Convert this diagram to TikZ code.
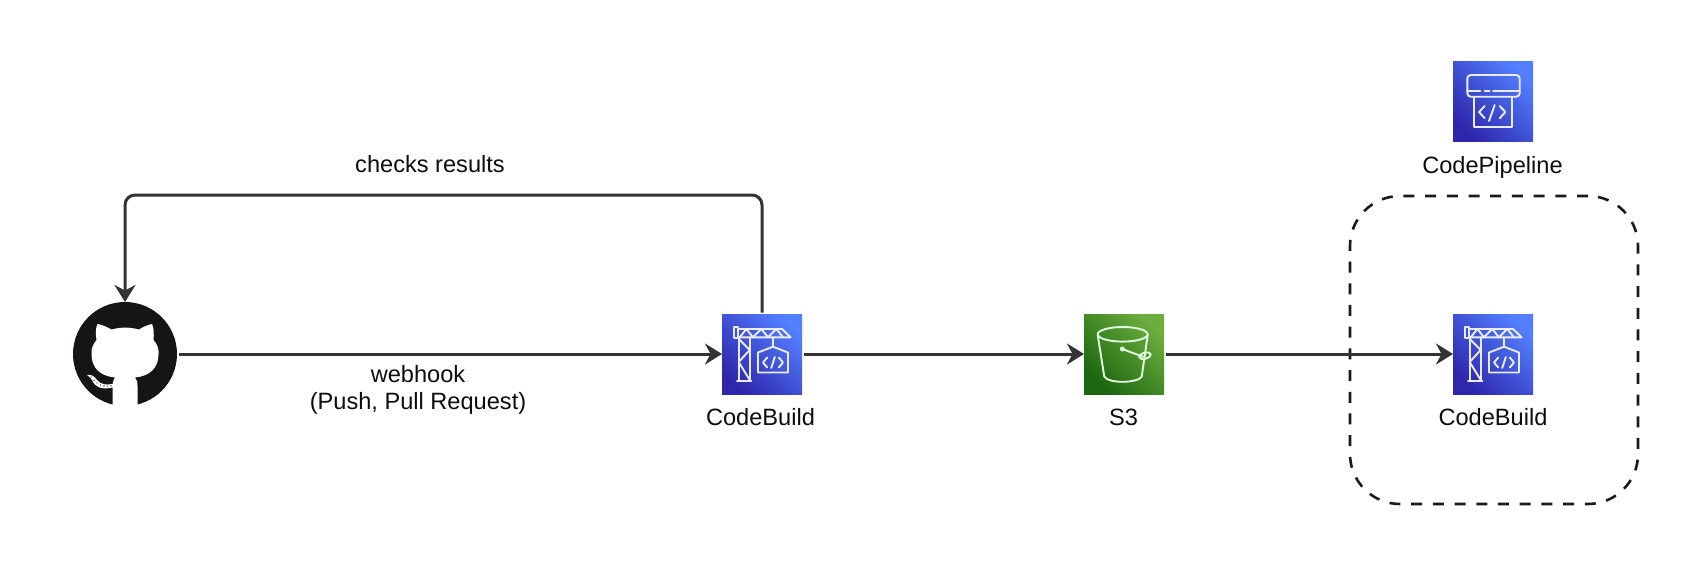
\documentclass[tikz,border=0pt]{standalone}
\usepackage{fontspec}
\setmainfont{Liberation Sans}
\usetikzlibrary{arrows.meta}
\definecolor{linecol}{HTML}{333333}
\definecolor{dashcol}{HTML}{1A1A1A}
\definecolor{bluedark}{HTML}{2E27AD}
\definecolor{bluelight}{HTML}{527FFF}
\definecolor{greendark}{HTML}{1B660F}
\definecolor{greenlight}{HTML}{6CAE3E}
\definecolor{ghblack}{HTML}{161514}
\tikzset{
  x=1pt,y=-1pt,
  lbl/.style={font=\fontsize{23.6}{26.6}\selectfont,text=black!95,inner sep=0pt,align=center},
  baselbl/.style={lbl,anchor=base},
  bluebox/.style={minimum size=80pt,inner sep=0pt,outer sep=0pt,bottom color=bluedark,top color=bluelight,middle color=bluedark!50!bluelight,shading angle=-45},
  greenbox/.style={minimum size=80pt,inner sep=0pt,outer sep=0pt,bottom color=greendark,top color=greenlight,middle color=greendark!50!greenlight,shading angle=-45},
  conn/.style={draw=linecol,line width=3pt,-{Stealth[length=17pt,width=21pt,inset=5.5pt]}},
  glyph/.style={draw=white!92!blue,line width=1.9pt,line join=round,line cap=round},
  crane/.pic={
    \begin{scope}[glyph]
      % jib
      \draw (16,23.3) -- (68.7,23.3) -- (60,15) -- (16,15);
      \draw (12,12.7) rectangle (16,24.3);
      \draw (17.7,23.3) -- (24.3,15) -- (31,23.3) -- (39.3,15) -- (46,23.3) -- (54.3,15) -- (61,23.3);
      % mast
      \draw (16.7,23.3) -- (16.7,67) (27.7,23.3) -- (27.7,67);
      \draw (15,67) -- (29.5,67);
      \draw (16.7,25) -- (27.7,36) -- (16.7,48) -- (27.7,66);
      % hoist and box
      \draw (51,23.3) -- (51,32.7);
      \draw (36,38.5) -- (51,32.7) -- (66,38.5) -- (66,58.5) -- (36,58.5) -- cycle;
      % code
      \draw (45.2,43.5) -- (41,48.5) -- (45.2,53.5);
      \draw (52.8,43) -- (49.2,54);
      \draw (56.8,43.5) -- (61,48.5) -- (56.8,53.5);
    \end{scope}
  },
  pipeline/.pic={
    \begin{scope}[glyph]
      \draw[rounded corners=3.5pt] (14.3,35.7) rectangle (66.7,14);
      \draw (14.3,29.7) -- (27.3,29.7) (31.7,29.7) -- (36.7,29.7) (40,29.7) -- (66.7,29.7);
      \draw (21,35.7) -- (21,66.3) -- (59.3,66.3) -- (59.3,35.7);
      \draw (31.7,45) -- (26,51) -- (31.7,57.3);
      \draw (41.7,44) -- (36,60);
      \draw (46.7,45) -- (52.3,51) -- (46.7,57.3);
    \end{scope}
  },
  bucket/.pic={
    \begin{scope}[glyph,draw=white!88!green]
      \draw (38.7,20.3) ellipse [x radius=25,y radius=7.3];
      \draw (13.7,21) -- (20.3,62.7) .. controls (24,69.5) and (53,69.5) .. (57.7,62.7) -- (63.7,21);
      \draw (38.3,35) circle [radius=1.8];
      \draw (40,35.7) -- (59,42.7);
      \draw[rotate around={15:(61,41.7)}] (61,41.7) ellipse [x radius=6,y radius=3];
    \end{scope}
  },
  octocat/.pic={
    % coordinates are relative to the logo centre, in reference pixels
    \fill[white] (-27.5,-30) .. controls (-22,-29) and (-18,-27) .. (-13.5,-24.5)
      .. controls (-5,-27) and (5,-27) .. (14,-24.5)
      .. controls (18,-27) and (22,-29) .. (27,-30)
      .. controls (29,-26) and (29,-20) .. (28.5,-14)
      .. controls (33,-9) and (34,-4) .. (33.5,0)
      .. controls (33.5,14) and (25,22) .. (10,23.5)
      .. controls (12,26) and (12.5,28) .. (12.5,32)
      -- (12.5,50) -- (12.5,54) -- (-12.5,54) -- (-12.5,50)
      -- (-12.5,33.5)
      .. controls (-24,36) and (-30,33) .. (-33,26)
      .. controls (-35,23) and (-37,22) .. (-38,21)
      .. controls (-34,20) and (-31,22) .. (-28,26)
      .. controls (-24,31) and (-18,31) .. (-12.5,30)
      .. controls (-12,27) and (-11,25) .. (-10,23.5)
      .. controls (-25,22) and (-33.5,14) .. (-33.5,0)
      .. controls (-34,-5) and (-32,-10) .. (-28.5,-14)
      .. controls (-29.5,-20) and (-29.5,-26) .. (-27.5,-30) -- cycle;
    \fill[ghblack] (-34,23) circle [radius=.7] (-31,26.5) circle [radius=.7] (-28,29) circle [radius=.7]
      (-24.5,31) circle [radius=.7] (-21,31.8) circle [radius=.7] (-17.5,32) circle [radius=.7] (-14,31.8) circle [radius=.7];
  }
}
\begin{document}
\begin{tikzpicture}
\useasboundingbox (0,0) rectangle (1703,587);

% frame round the second build
\node[draw=dashcol,line width=2.6pt,dash pattern=on 11pt off 10.7pt,rounded corners=50pt,
      minimum width=288pt,minimum height=308pt,inner sep=0pt] (frame) at (1494,350) {};

% icons
\node[circle,fill=ghblack,minimum size=104pt,inner sep=0pt,outer sep=0pt] (gh) at (125,354) {};
\pic at (gh.center) {octocat};
\node[bluebox] (cb1) at (762,354) {};
\pic at (cb1.north west) {crane};
\node[greenbox] (s3) at (1124,354) {};
\pic at (s3.north west) {bucket};
\node[bluebox] (cb2) at (1493,354) {};
\pic at (cb2.north west) {crane};
\node[bluebox] (cp) at (1493,101) {};
\pic at (cp.north west) {pipeline};

% labels
\node[baselbl] (lcp) at (1492.5,173) {CodePipeline};
\node[baselbl] (lcb1) at (760.5,425) {CodeBuild};
\node[baselbl] (ls3) at (1123.5,425) {S3};
\node[baselbl] (lcb2) at (1493,425) {CodeBuild};
\node[baselbl] (lchk) at (430,172.3) {checks results};
\node[lbl] (lhook) at (418,390) {webhook\\(Push, Pull Request)};

% connectors
\coordinate (bend) at (125,195);
\draw[conn,shorten <=2pt] (gh.east) -- (cb1.west);
\draw[conn,shorten <=2pt] (cb1.east) -- (s3.west);
\draw[conn,shorten <=2pt] (s3.east) -- (cb2.west);
\draw[conn,shorten <=1.5pt,rounded corners=10pt] (cb1.north) |- (bend) -- (gh.north);
\end{tikzpicture}
\end{document}
